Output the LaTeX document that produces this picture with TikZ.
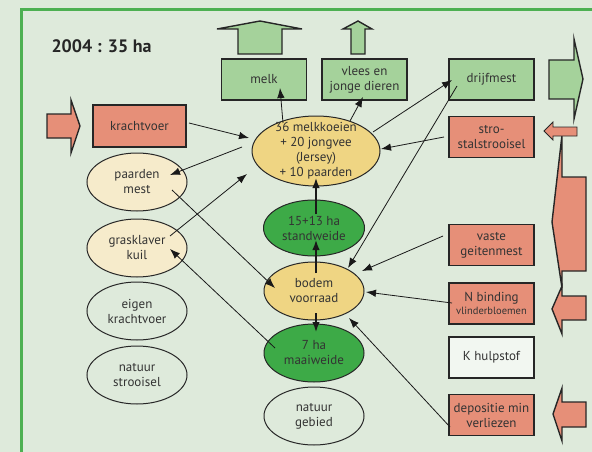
\documentclass[tikz,border=0pt]{standalone}
\usepackage{fontspec}
\setmainfont{PT Sans}
\usetikzlibrary{shapes.geometric,arrows.meta}
\definecolor{hgrund}{HTML}{DEEADB}
\definecolor{rahmen}{HTML}{4DB052}
\definecolor{rosa}{HTML}{E68F78}
\definecolor{hellgruen}{HTML}{A5D29B}
\definecolor{gelb}{HTML}{EFD583}
\definecolor{hellgelb}{HTML}{F6EBCB}
\definecolor{gruen}{HTML}{3DAA47}
\definecolor{schrift}{HTML}{333333}

\begin{document}
\begin{tikzpicture}[
x=1pt, y=-1pt,
font=\fontsize{13}{15}\selectfont,
>={Latex[length=10pt,width=7.5pt]},   % Pfeilspitzen
kader/.style={draw=black!85, line width=1.3pt, minimum width=85pt, minimum height=41pt, align=center, inner sep=1pt, text=schrift},
roze/.style={kader, fill=rosa},
groen/.style={kader, fill=hellgruen},
ovaal/.style={ellipse, draw=black!85, line width=1pt, minimum width=100pt, minimum height=58pt, align=center, inner sep=1pt, text=schrift},
pijl/.style={->, line width=0.8pt, black!90},
dikpijl/.style={pijl, line width=1.5pt},
blok/.style={draw=black!85, line width=1.4pt, line join=miter}
]

% Hintergrund
\useasboundingbox (0,0) rectangle (592,452);
\fill[hgrund] (0,0) rectangle (592,452);
\draw[rahmen, line width=3pt] (21,452) -- (21,10) -- (592,10);

% Titel
\node[anchor=base west, text=black!85, font=\bfseries\fontsize{18}{20}\selectfont] (titel) at (48,53) {2004 : 35 ha};

% Blokpijlen
\draw[blok, fill=rosa] (47,114) -- (71,114) -- (71,100) -- (80,126) -- (71,153) -- (71,138) -- (47,138) -- cycle;
\draw[blok, fill=hellgruen] (238,54) -- (238,29) -- (217,29) -- (260,21) -- (302,29) -- (282,29) -- (282,54) -- cycle;
\draw[blok, fill=hellgruen] (351,54) -- (351,29) -- (343,29) -- (358,21) -- (372,29) -- (365,29) -- (365,54) -- cycle;
\draw[blok, fill=hellgruen] (549,60) -- (574,60) -- (574,39) -- (583,79) -- (574,119) -- (574,99) -- (549,99) -- cycle;
\draw[blok, fill=rosa] (586,177) -- (586,271) -- (562,271) -- (562,288) -- (552,222) -- (562,135) -- (562,177) -- cycle;
\draw[blok, fill=rosa] (586,296) -- (586,320) -- (562,320) -- (562,334) -- (552,309) -- (562,286) -- (562,296) -- cycle;
\draw[blok, fill=rosa] (586,402) -- (586,427) -- (562,427) -- (562,441) -- (553,414) -- (562,388) -- (562,402) -- cycle;
\draw[blok, line width=0.8pt, fill=rosa] (577,127) -- (553,127) -- (553,122) -- (544,131) -- (553,140) -- (553,136) -- (577,136) -- cycle;

% Rechthoeken
\node[groen] (melk) at (264,79.5) {melk};
\node[groen] (vlees) at (364.5,79.5) {vlees en\\jonge dieren};
\node[groen] (drijfmest) at (491.5,79.5) {drijfmest};
\node[roze] (stro) at (491.5,137) {stro-\\stalstrooisel};
\node[roze, minimum width=93pt, minimum height=42pt] (kracht) at (139.5,126) {krachtvoer};
\node[roze] (vaste) at (491.5,245) {vaste\\geitenmest};
\node[roze] (nbind) at (491.5,303.5) {N binding\\[-2pt]{\fontsize{10.5}{12}\selectfont vlinderbloemen}};
\node[kader, fill=white!60!hgrund] (khulp) at (491.5,357.5) {K hulpstof};
\node[roze] (depo) at (491.5,415) {depositie min\\verliezen};

% Ovalen links
\node[ovaal, fill=hellgelb] (paarden) at (137,182) {paarden\\mest};
\node[ovaal, fill=hellgelb] (gras) at (137,248) {grasklaver\\kuil};
\node[ovaal] (eigen) at (137,311) {eigen\\krachtvoer};
\node[ovaal] (strooi) at (137,375) {natuur\\strooisel};

% Ovalen midden
\node[ovaal, fill=gelb, minimum width=128pt, minimum height=70pt, inner ysep=-4pt] (koeien) at (316,151) {36 melkkoeien\\+ 20 jongvee\\(Jersey)\\+ 10 paarden};
\node[ovaal, fill=gruen, minimum width=101pt, minimum height=56pt] (stand) at (314,228) {15+13 ha\\standweide};
\node[ovaal, fill=gelb] (bodem) at (314,291) {bodem\\voorraad};
\node[ovaal, fill=gruen] (maai) at (314,353) {7 ha\\maaiweide};
\node[ovaal] (gebied) at (314,416) {natuur\\gebied};

% Pijlen
\draw[pijl] ([shift={(-33,-28)}]koeien.center) -- ([shift={(16,8.5)}]melk.center);
\draw[pijl] ([shift={(34,-30)}]koeien.center) -- ([shift={(-1.5,17.5)}]vlees.center);
\draw[pijl] ([shift={(57,-19)}]koeien.center) -- ([shift={(-39.5,0.5)}]drijfmest.center);
\draw[pijl] ([shift={(-47.5,0)}]stro.center) -- ([shift={(65,-2)}]koeien.center);
\draw[pijl] ([shift={(49.5,-3)}]kracht.center) -- ([shift={(-67,-13)}]koeien.center);
\draw[pijl] ([shift={(-74,-4)}]koeien.center) -- ([shift={(33,-7)}]paarden.center);
\draw[pijl] ([shift={(33,-12)}]gras.center) -- ([shift={(-69,23)}]koeien.center);
\draw[pijl] ([shift={(35,8)}]paarden.center) -- ([shift={(-39,-3)}]bodem.center);
\draw[pijl] ([shift={(-39,-5)}]maai.center) -- ([shift={(33,1)}]gras.center);
\draw[pijl] ([shift={(-34.5,6.5)}]drijfmest.center) -- ([shift={(34,-23)}]bodem.center);
\draw[pijl] ([shift={(-48.5,-9)}]vaste.center) -- ([shift={(48,-20)}]bodem.center);
\draw[pijl] ([shift={(-39.5,-0.5)}]nbind.center) -- ([shift={(52,1)}]bodem.center);
\draw[pijl] ([shift={(-41.5,12)}]depo.center) -- ([shift={(35,27)}]bodem.center);

% Verticaal
\draw[dikpijl] ([shift={(2,-14)}]stand.center) -- ([shift={(0,27)}]koeien.center);
\draw[dikpijl] ([shift={(2,-18)}]bodem.center) -- ([shift={(2,12)}]stand.center);
\draw[dikpijl] ([shift={(2,22)}]bodem.center) -- ([shift={(2,-21)}]maai.center);

\end{tikzpicture}
\end{document}
